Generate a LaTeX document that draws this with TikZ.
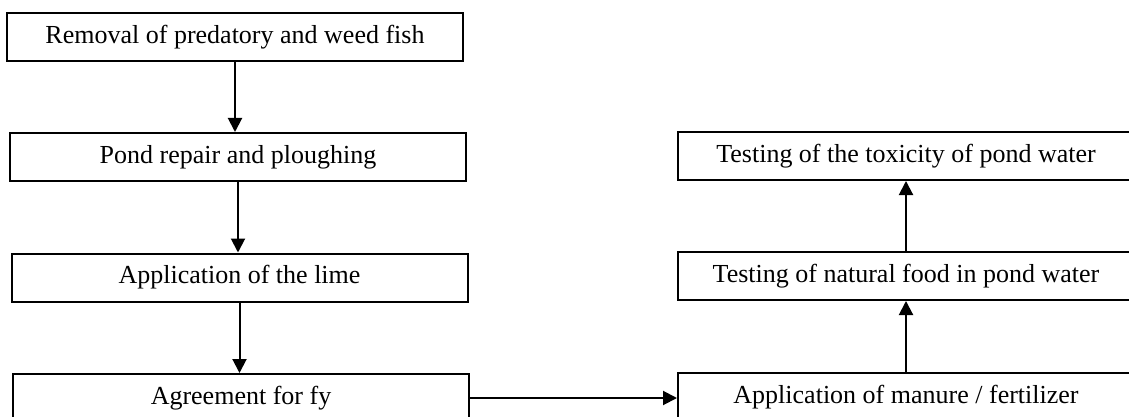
\documentclass[tikz,border=0pt]{standalone}
\usepackage{fontspec}
\setmainfont{Liberation Serif}
\usetikzlibrary{arrows.meta}

\begin{document}
\begin{tikzpicture}[x=1pt,y=1pt,yscale=-1,xscale=1,
  stage/.style={draw, line width=2pt, rectangle, minimum width=456pt, minimum height=48pt, inner sep=0pt, font=\fontsize{26}{30}\selectfont},
  flow/.style={line width=2pt, -{Triangle[length=14pt,width=14pt]}}]
\useasboundingbox (0,0) rectangle (1129,417);

% Left column
\node[stage] (removal) at (235,37) {Removal of predatory and weed fish};
\node[stage] (repair) at (238,157) {Pond repair and ploughing};
\node[stage] (lime) at (239.5,277.5) {Application of the lime};
\node[stage] (agree) at (241,398) {Agreement for fy};

% Right column
\node[stage] (toxic) at (906,156) {Testing of the toxicity of pond water};
\node[stage] (food) at (906,276) {Testing of natural food in pond water};
\node[stage] (manure) at (906,397) {Application of manure / fertilizer};

% Arrows
\draw[flow] (removal.south) -- (removal.south |- repair.north);
\draw[flow] (repair.south) -- (repair.south |- lime.north);
\draw[flow] (lime.south) -- (lime.south |- agree.north);
\draw[flow] (agree.east) -- (agree.east -| manure.west);
\draw[flow] (manure.north) -- (manure.north |- food.south);
\draw[flow] (food.north) -- (food.north |- toxic.south);

\end{tikzpicture}
\end{document}
